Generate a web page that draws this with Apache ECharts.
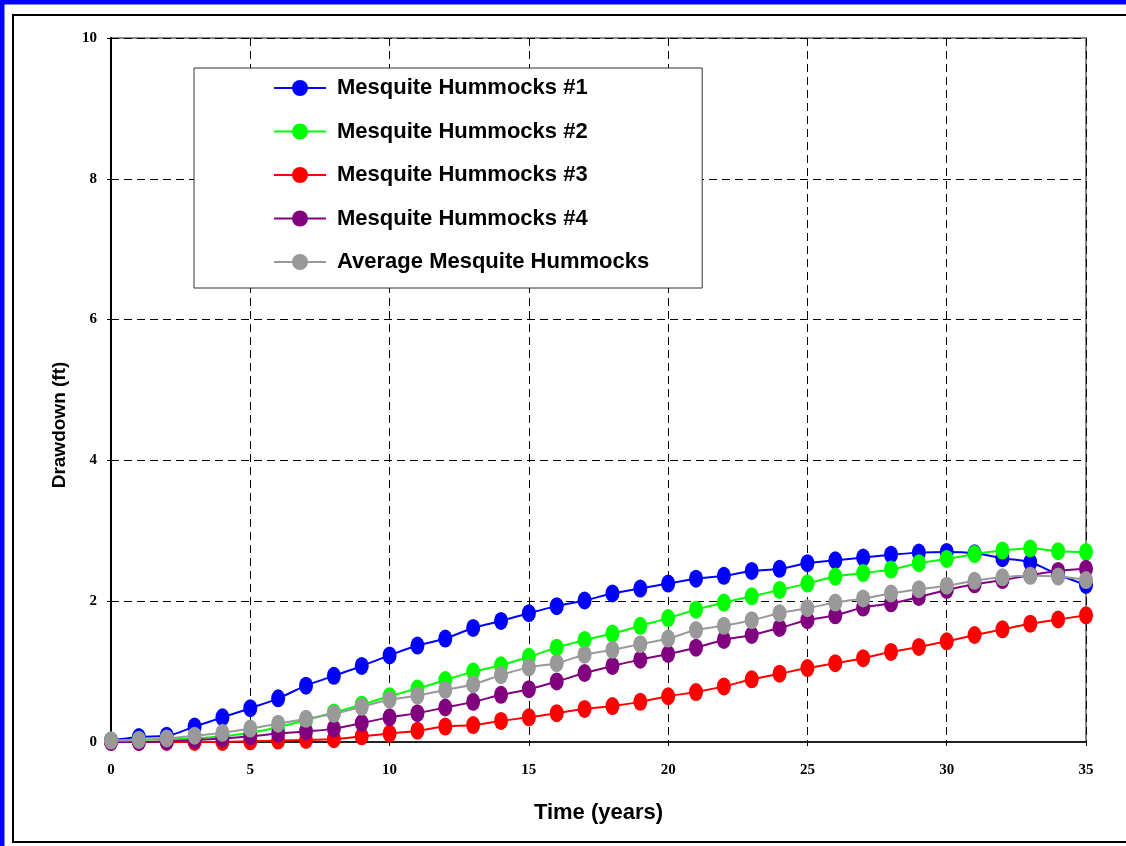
<!DOCTYPE html>
<html>
<head>
<meta charset="utf-8">
<title>Drawdown - Mesquite Hummocks</title>
<script src="https://cdn.jsdelivr.net/npm/echarts@6/dist/echarts.min.js"></script>
<style>
  html, body { margin: 0; padding: 0; background: #fff; }
  #chart { width: 1126px; height: 846px; }
</style>
</head>
<body>
<div id="chart"></div>
<script>
// Time since start, years
const years = [0, 1, 2, 3, 4, 5, 6, 7, 8, 9, 10, 11, 12, 13, 14, 15, 16, 17,
  18, 19, 20, 21, 22, 23, 24, 25, 26, 27, 28, 29, 30, 31, 32, 33, 34, 35];

// Drawdown (ft) at each site
const hummocks1 = [0.02, 0.07, 0.09, 0.22, 0.35, 0.48, 0.62, 0.80, 0.94, 1.08, 1.23, 1.37,
  1.47, 1.62, 1.72, 1.83, 1.93, 2.01, 2.11, 2.18, 2.25, 2.32, 2.36, 2.43,
  2.46, 2.54, 2.58, 2.62, 2.66, 2.69, 2.70, 2.68, 2.61, 2.55, 2.38, 2.23];
const hummocks2 = [0.02, 0.03, 0.04, 0.05, 0.08, 0.13, 0.21, 0.31, 0.42, 0.53, 0.65, 0.76,
  0.88, 1.00, 1.09, 1.21, 1.34, 1.45, 1.54, 1.65, 1.76, 1.88, 1.98, 2.07,
  2.16, 2.25, 2.35, 2.40, 2.45, 2.54, 2.60, 2.67, 2.72, 2.75, 2.71, 2.70];
const hummocks3 = [0.00, 0.00, 0.00, 0.00, 0.00, 0.01, 0.02, 0.03, 0.04, 0.08, 0.12, 0.16,
  0.22, 0.24, 0.30, 0.35, 0.41, 0.47, 0.51, 0.57, 0.65, 0.71, 0.79, 0.89,
  0.97, 1.05, 1.12, 1.19, 1.28, 1.35, 1.43, 1.52, 1.60, 1.68, 1.74, 1.80];
const hummocks4 = [0.00, 0.00, 0.01, 0.03, 0.05, 0.08, 0.12, 0.15, 0.19, 0.27, 0.35, 0.41,
  0.49, 0.57, 0.67, 0.75, 0.86, 0.98, 1.08, 1.17, 1.25, 1.34, 1.45, 1.52,
  1.62, 1.73, 1.80, 1.91, 1.97, 2.06, 2.16, 2.24, 2.30, 2.37, 2.43, 2.46];
const hummocksAvg = [0.02, 0.03, 0.05, 0.09, 0.13, 0.19, 0.26, 0.33, 0.40, 0.50, 0.60, 0.66,
  0.74, 0.82, 0.95, 1.06, 1.12, 1.24, 1.31, 1.39, 1.47, 1.59, 1.65, 1.73,
  1.83, 1.90, 1.98, 2.04, 2.11, 2.17, 2.22, 2.29, 2.34, 2.36, 2.35, 2.30];

const seriesNames = [
  'Mesquite Hummocks #1',
  'Mesquite Hummocks #2',
  'Mesquite Hummocks #3',
  'Mesquite Hummocks #4',
  'Average Mesquite Hummocks'
];
const seriesValues = [hummocks1, hummocks2, hummocks3, hummocks4, hummocksAvg];
const seriesColors = ['#0000ff', '#00ff00', '#ff0000', '#800080', '#999999'];

const yTitle = 'Drawdown (ft)';
const xTitle = 'Time (years)';

const SANS = '"Liberation Sans", Arial, sans-serif';
const SERIF = '"Liberation Serif", "Times New Roman", serif';

const chart = echarts.init(document.getElementById('chart'), null, { renderer: 'canvas' });

const series = seriesNames.map((name, k) => ({
  name: name,
  type: 'line',
  data: years.map((t, i) => [t, seriesValues[k][i]]),
  smooth: 0.4,
  symbol: 'circle',
  symbolSize: [14, 18],
  showSymbol: true,
  color: seriesColors[k],
  lineStyle: { color: seriesColors[k], width: 2 },
  itemStyle: { color: seriesColors[k], borderWidth: 0 },
  emphasis: { disabled: true },
  z: 2 + k * 0.1
}));

const gridDash = { type: [8, 5], color: '#000', width: 1 };

chart.setOption({
  animation: false,
  backgroundColor: '#fff',
  graphic: [
    // outer blue frame and inner black frame
    {
      type: 'rect', silent: true, z: 0,
      shape: { x: 2, y: 2, width: 1150, height: 870 },
      style: { fill: null, stroke: '#0000ff', lineWidth: 5 }
    },
    {
      type: 'rect', silent: true, z: 0,
      shape: { x: 13, y: 15, width: 1140, height: 827 },
      style: { fill: null, stroke: '#000', lineWidth: 2 }
    },
    // vertical axis title
    {
      type: 'text', silent: true, z: 5,
      x: 60, y: 425, rotation: Math.PI / 2,
      style: {
        text: yTitle,
        fontFamily: SANS, fontWeight: 'bold', fontSize: 19,
        fill: '#000', textAlign: 'center', textVerticalAlign: 'middle'
      }
    }
  ],
  grid: {
    left: 111, right: 40, top: 38, bottom: 104,
    show: true,
    borderColor: '#888',
    borderWidth: 2,
    backgroundColor: 'transparent'
  },
  legend: {
    orient: 'vertical',
    left: 194,
    top: 68,
    data: seriesNames,
    backgroundColor: '#fff',
    borderColor: '#333',
    borderWidth: 1,
    padding: [7, 53, 13, 79],
    itemWidth: 52,
    itemHeight: 20,
    itemGap: 17.5,
    selectedMode: false,
    textStyle: {
      fontFamily: SANS, fontWeight: 'bold', fontSize: 22,
      color: '#000', lineHeight: 26, padding: [0, 0, 0, 6]
    }
  },
  xAxis: {
    type: 'value',
    min: 0, max: 35, interval: 5,
    name: xTitle,
    nameLocation: 'middle',
    nameGap: 60,
    nameTextStyle: { fontFamily: SANS, fontWeight: 'bold', fontSize: 22, color: '#000' },
    axisLine: { show: true, onZero: false, lineStyle: { color: '#222', width: 2 } },
    axisTick: { show: true, length: 4, lineStyle: { color: '#000' } },
    axisLabel: {
      fontFamily: SERIF, fontWeight: 'bold', fontSize: 15, color: '#000', margin: 21
    },
    splitLine: { show: true, lineStyle: gridDash }
  },
  yAxis: {
    type: 'value',
    min: 0, max: 10, interval: 2,
    axisLine: { show: true, lineStyle: { color: '#000', width: 2 } },
    axisTick: { show: true, length: 4, lineStyle: { color: '#000' } },
    axisLabel: {
      fontFamily: SERIF, fontWeight: 'bold', fontSize: 15, color: '#000', margin: 14
    },
    splitLine: { show: true, lineStyle: gridDash }
  },
  series: series
});
</script>
</body>
</html>
